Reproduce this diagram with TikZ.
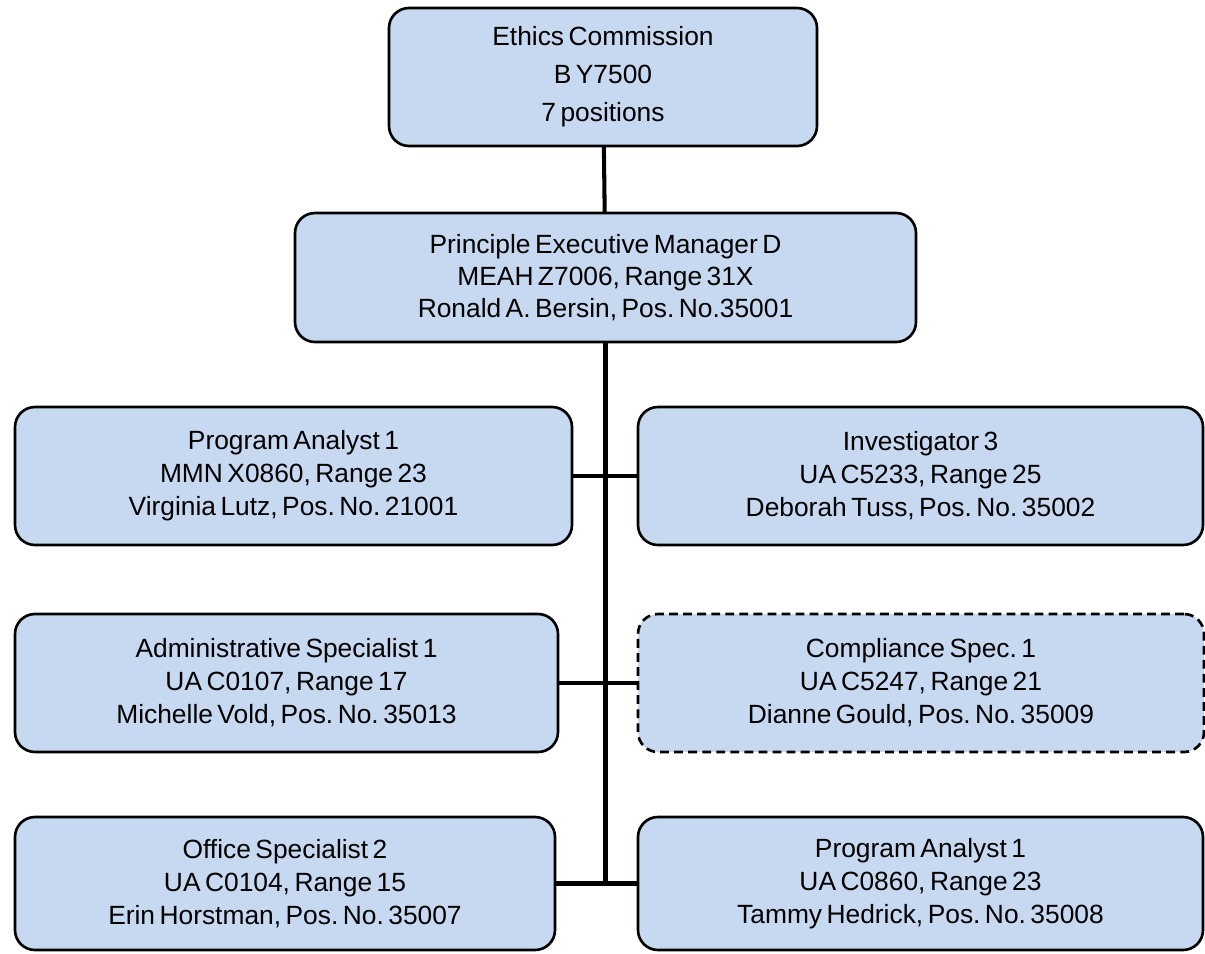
\documentclass[tikz,border=0pt]{standalone}
\usepackage{fontspec}
\setmainfont{Liberation Sans}
\usepackage{tikz}
\usetikzlibrary{positioning,calc}
\definecolor{PostBlue}{RGB}{198,217,240}
\newcommand{\postfont}[1]{\fontsize{15}{#1}\selectfont\spaceskip 0.17em plus 0.05em\relax}
\tikzset{
  post/.style={rounded corners=0.4cm,draw=black,line width=1.5pt,fill=PostBlue,
               align=center,inner sep=0pt,minimum height=2.76cm,
               font=\postfont{18.8}},
  vacant/.style={post,dashed,dash pattern=on 5pt off 3pt},
  link/.style={line width=2.3pt,line cap=rect},
}
\frenchspacing

\begin{document}
\begin{tikzpicture}
  \useasboundingbox (0,0) rectangle (24.1,-19.08);

  % commission and manager
  \node[post,minimum width=8.56cm,font=\postfont{21.6}] (comm) at (12.06,-1.54)
    {Ethics Commission\\ B Y7500\\ 7 positions};
  \node[post,minimum width=12.42cm,minimum height=2.58cm,font=\postfont{18.2}] (mgr) at (12.11,-5.55)
    {Principle Executive Manager D\\ MEAH Z7006, Range 31X\\ Ronald A. Bersin, Pos. No.35001};

  % staff, left column
  \node[post,minimum width=11.14cm] (pa1) at (5.87,-9.52)
    {Program Analyst 1\\ MMN X0860, Range 23\\ Virginia Lutz, Pos. No. 21001};
  \node[post,minimum width=10.86cm] (adm) at (5.73,-13.66)
    {Administrative Specialist 1\\ UA C0107, Range 17\\ Michelle Vold, Pos. No. 35013};
  \node[post,minimum width=10.8cm,minimum height=2.66cm] (off) at (5.70,-17.67)
    {Office Specialist 2\\ UA C0104, Range 15\\ Erin Horstman, Pos. No. 35007};

  % staff, right column
  \node[post,minimum width=11.3cm] (inv) at (18.41,-9.52)
    {Investigator 3\\ UA C5233, Range 25\\ Deborah Tuss, Pos. No. 35002};
  \node[vacant,minimum width=11.32cm] (comp) at (18.42,-13.66)
    {Compliance Spec. 1\\ UA C5247, Range 21\\ Dianne Gould, Pos. No. 35009};
  \node[post,minimum width=11.3cm,minimum height=2.66cm] (pa2) at (18.41,-17.67)
    {Program Analyst 1\\ UA C0860, Range 23\\ Tammy Hedrick, Pos. No. 35008};

  % reporting lines
  \coordinate (trunk) at (mgr.south |- off.east);
  \draw[link] (comm) -- (mgr);
  \draw[link] (mgr.south) -- (trunk);
  \draw[link] (pa1.east) -- (inv.west);
  \draw[link] (adm.east) -- (comp.west);
  \draw[link] (off.east) -- (pa2.west);
\end{tikzpicture}
\end{document}
